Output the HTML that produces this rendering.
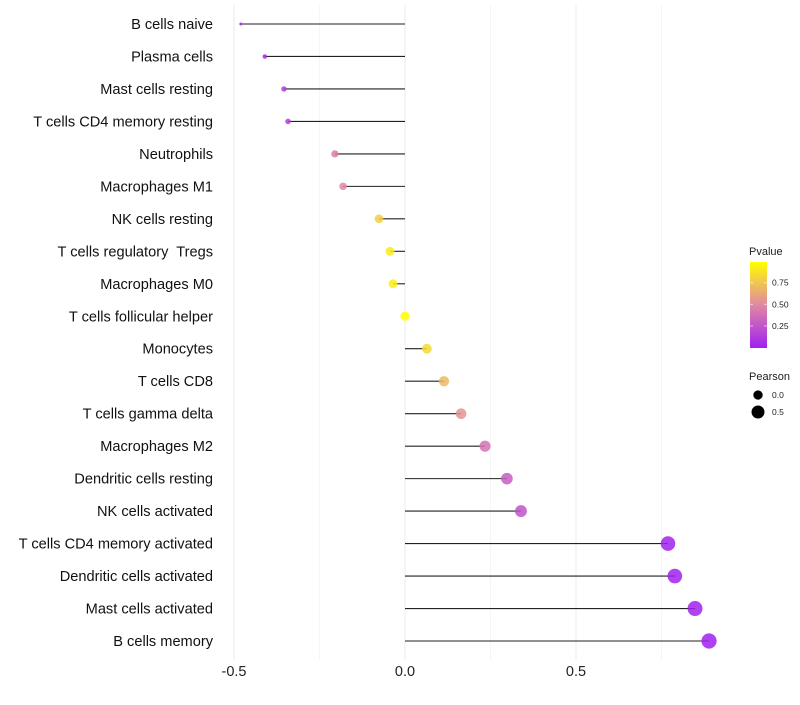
<!DOCTYPE html>
<html><head><meta charset="utf-8"><style>
body{margin:0;background:#fff;font-family:"Liberation Sans",sans-serif}
text{white-space:pre}
</style></head><body>
<svg id="c" width="800" height="700" xmlns="http://www.w3.org/2000/svg"></svg>
<script>
const categories=["B cells naive","Plasma cells","Mast cells resting","T cells CD4 memory resting","Neutrophils","Macrophages M1","NK cells resting","T cells regulatory  Tregs","Macrophages M0","T cells follicular helper","Monocytes","T cells CD8","T cells gamma delta","Macrophages M2","Dendritic cells resting","NK cells activated","T cells CD4 memory activated","Dendritic cells activated","Mast cells activated","B cells memory"];
const pearson=[-0.48,-0.41,-0.354,-0.342,-0.205,-0.181,-0.076,-0.044,-0.035,0.0,0.064,0.114,0.164,0.234,0.298,0.339,0.769,0.789,0.848,0.889];
const pvalue=[0.02,0.05,0.12,0.15,0.45,0.5,0.8,0.92,0.93,1.0,0.85,0.7,0.55,0.4,0.3,0.25,0.01,0.01,0.005,0.003];
const xTicks=[-0.5,0,0.5];
const xTickLabels=["-0.5","0.0","0.5"];
const legendP=[0.25,0.5,0.75];
const legendS=[0.0,0.5];

const svg=document.getElementById('c');
const NS="http://www.w3.org/2000/svg";
function X(v){return 405+v*342;}
function Y(i){return 24+i*(617/19);}
const pmin=Math.min(...pearson),pmax=Math.max(...pearson);
function R(v){return Math.sqrt(2.25+(57.8-2.25)*(v-pmin)/(pmax-pmin));}
function col(p){
  const stops=[[0,[160,32,240]],[0.5,[224,136,164]],[1,[255,255,0]]];
  let a=stops[0],b=stops[1];if(p>0.5){a=stops[1];b=stops[2];}
  const t=(p-a[0])/(b[0]-a[0]);
  const c=a[1].map((x,k)=>Math.round(x+(b[1][k]-x)*t));
  return `rgb(${c[0]},${c[1]},${c[2]})`;
}
function el(t,at,txt){const e=document.createElementNS(NS,t);for(const k in at)e.setAttribute(k,at[k]);if(txt!=null)e.textContent=txt;svg.appendChild(e);return e;}

[-0.5,-0.25,0,0.25,0.5,0.75].forEach(v=>{
  const g=el('line',{x1:X(v),x2:X(v),y1:5,y2:660,stroke:v%0.5===0?'#ebebeb':'#f3f3f3','stroke-width':v%0.5===0?1:0.8});
  
  
});
xTicks.forEach((v,i)=>{
  const t=el('text',{x:X(v),y:676,'font-size':14.5,'text-anchor':'middle',fill:'#222'},xTickLabels[i]);
  
  
});
categories.forEach((c,i)=>{
  const y=Y(i);
  const t=el('text',{x:213,y:y+5,'font-size':14.6,'text-anchor':'end',fill:'#111'},c);
  
  
  const s=el('line',{x1:X(0),x2:X(pearson[i]),y1:y,y2:y,stroke:'#222','stroke-width':1.1});
  
  
  const p=el('circle',{cx:X(pearson[i]),cy:y,r:R(pearson[i]),fill:col(pvalue[i]),'fill-opacity':0.85});
  
  
});
const lt=el('text',{x:749,y:255,'font-size':11,fill:'#222'},'Pvalue');


const defs=el('defs',{});
const lg=document.createElementNS(NS,'linearGradient');lg.setAttribute('id','gr');lg.setAttribute('x1','0');lg.setAttribute('y1','1');lg.setAttribute('x2','0');lg.setAttribute('y2','0');defs.appendChild(lg);
for(let k=0;k<=10;k++){const s=document.createElementNS(NS,'stop');s.setAttribute('offset',k/10);s.setAttribute('stop-color',col(k/10));lg.appendChild(s);}
const bar=el('rect',{x:750,y:262,width:17,height:86,fill:'url(#gr)'});


legendP.forEach(v=>{
  const y=347-(v-0.006)/0.984*85;
  el('line',{x1:750,x2:753,y1:y,y2:y,stroke:'#fff','stroke-opacity':0.6});
  el('line',{x1:764,x2:767,y1:y,y2:y,stroke:'#fff','stroke-opacity':0.6});
  const t=el('text',{x:772,y:y+3,'font-size':8.5,fill:'#222'},v.toFixed(2));
  
  
});
const st=el('text',{x:749,y:380,'font-size':11,fill:'#222'},'Pearson');


legendS.forEach((v,i)=>{
  const y=395+i*17;
  const c=el('circle',{cx:758,cy:y,r:R(v),fill:'#000'});
  
  
  const t=el('text',{x:772,y:y+3,'font-size':8.5,fill:'#222'},v.toFixed(1));
  
  
});
</script>
</body></html>
